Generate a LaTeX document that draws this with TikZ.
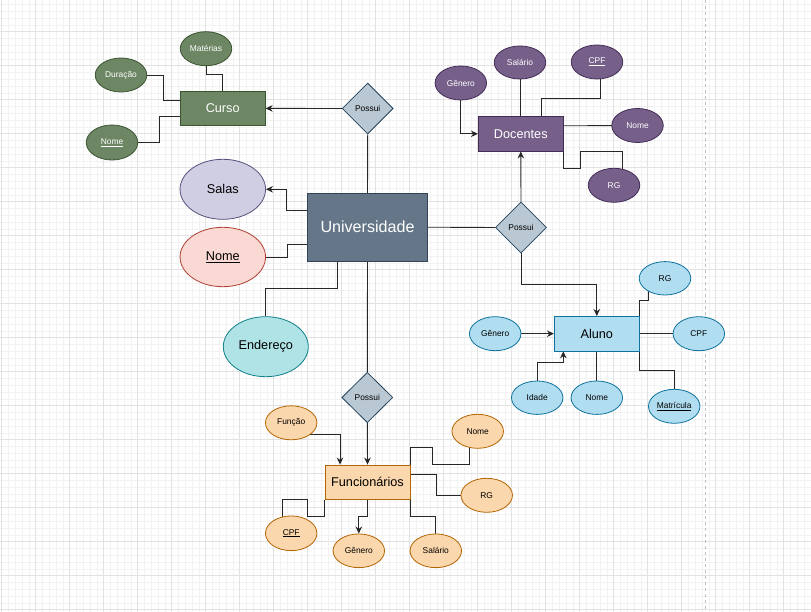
\documentclass[tikz,border=0pt]{standalone}
\usepackage{fontspec}
\setmainfont{Liberation Sans}
\usetikzlibrary{shapes.geometric,arrows.meta,backgrounds}
\definecolor{grnF}{HTML}{6D8764}\definecolor{grnD}{HTML}{3A5431}
\definecolor{purF}{HTML}{76608A}\definecolor{purD}{HTML}{432D57}
\definecolor{bluF}{HTML}{B1DDF0}\definecolor{bluD}{HTML}{10739E}
\definecolor{orgF}{HTML}{FAD7AC}\definecolor{orgD}{HTML}{B46504}
\definecolor{salF}{HTML}{D0CEE2}\definecolor{salD}{HTML}{56517E}
\definecolor{nomF}{HTML}{FAD9D5}\definecolor{nomD}{HTML}{AE4132}
\definecolor{endF}{HTML}{B0E3E6}\definecolor{endD}{HTML}{0E8088}
\definecolor{diaF}{HTML}{BAC8D3}\definecolor{diaD}{HTML}{23445D}
\definecolor{uniF}{HTML}{647687}\definecolor{uniD}{HTML}{314354}
\definecolor{gridmin}{HTML}{F2F2F2}\definecolor{gridmaj}{HTML}{E2E2E2}
\tikzset{
  ent/.style={rectangle,inner sep=0pt,minimum width=85pt,minimum height=34.5pt,line width=0.8pt,font=\fontsize{12.7}{15}\selectfont},
  att/.style={ellipse,inner sep=0pt,minimum width=51.5pt,minimum height=34pt,line width=0.8pt,font=\fontsize{8.4}{10}\selectfont},
  bigatt/.style={ellipse,inner sep=0pt,minimum width=85.5pt,minimum height=60pt,line width=0.8pt,font=\fontsize{12.7}{15}\selectfont},
  rel/.style={diamond,inner sep=0pt,minimum width=51pt,minimum height=51pt,fill=diaF,draw=diaD,line width=0.8pt,font=\fontsize{8.4}{10}\selectfont},
  green/.style={fill=grnF,draw=grnD,text=white},
  purple/.style={fill=purF,draw=purD,text=white},
  blue/.style={fill=bluF,draw=bluD,text=black},
  orange/.style={fill=orgF,draw=orgD,text=black},
  conn/.style={draw=black!85,line width=0.9pt},
  arr/.style={conn,-{Stealth[length=7pt,width=6.5pt]}},
}
\begin{document}
\begin{tikzpicture}[x=1pt,y=-1pt]
\useasboundingbox (0,0) rectangle (811,612);
\begin{pgfonlayer}{background}
\fill[white] (0,0) rectangle (811,612);
\foreach \i in {0,...,119} {\draw[gridmin,line width=0.6pt] ({1.7+6.8*\i},0) -- ({1.7+6.8*\i},612);}
\foreach \i in {1,...,90} {\draw[gridmin,line width=0.6pt] (0,{-2.3+6.8*\i}) -- (811,{-2.3+6.8*\i});}
\foreach \i in {0,...,23} {\draw[gridmaj,line width=0.8pt] ({1.7+34*\i},0) -- ({1.7+34*\i},612);}
\foreach \i in {1,...,18} {\draw[gridmaj,line width=0.8pt] (0,{-2.3+34*\i}) -- (811,{-2.3+34*\i});}
\draw[black!25,line width=0.8pt,dash pattern=on 3pt off 3pt] (705.7,0) -- (705.7,612);
\end{pgfonlayer}

% Curso
\node[ent,green] (curso) at (222.7,108.4) {Curso};
\node[att,green] (materias) at (206,48.7) {Matérias};
\node[att,green] (duracao) at (121,75) {Duração};
\node[att,green,minimum height=35pt] (nomecurso) at (112,142.5) {\underline{Nome}};
\node[rel] (possui1) at (367.7,108.5) {Possui};

% Universidade
\node[ent,fill=uniF,draw=uniD,text=white,minimum width=119.6pt,minimum height=67.7pt,font=\fontsize{16.1}{19}\selectfont] (univ) at (367.5,227.2) {Universidade};
\node[bigatt,fill=salF,draw=salD] (salas) at (222.8,189.3) {Salas};
\node[bigatt,fill=nomF,draw=nomD,minimum height=59.4pt] (nomeu) at (222.8,257) {\underline{Nome}};
\node[bigatt,fill=endF,draw=endD,minimum width=85pt] (endereco) at (265.8,346.7) {Endereço};

% Docentes
\node[ent,purple] (docentes) at (520.8,133.8) {Docentes};
\node[att,purple] (generod) at (460.8,83) {Gênero};
\node[att,purple,minimum height=33pt] (salariod) at (520,62.5) {Salário};
\node[att,purple] (cpfd) at (597,62) {\underline{CPF}};
\node[att,purple] (nomed) at (637.5,125.5) {Nome};
\node[att,purple] (rgd) at (614,185.3) {RG};
\node[rel] (possui2) at (521,227.5) {Possui};

% Aluno
\node[ent,blue] (aluno) at (596.8,333.7) {Aluno};
\node[att,blue,minimum height=33.4pt] (rga) at (665,278.3) {RG};
\node[att,blue] (cpfa) at (698.8,333.7) {CPF};
\node[att,blue] (generoa) at (495.2,333.7) {Gênero};
\node[att,blue,minimum height=33.4pt] (idade) at (537.2,397.7) {Idade};
\node[att,blue,minimum height=33.4pt] (nomea) at (596.8,397.7) {Nome};
\node[att,blue] (matricula) at (674.2,406.3) {\underline{Matrícula}};

% Funcionarios
\node[rel,minimum height=50.4pt] (possui3) at (367.3,397.5) {Possui};
\node[ent,orange] (func) at (367.5,482.2) {Funcionários};
\node[att,orange] (funcao) at (291.2,422.8) {Função};
\node[att,orange] (nomef) at (477.7,431.3) {Nome};
\node[att,orange] (rgf) at (486.7,495.3) {RG};
\node[att,orange,minimum height=33.7pt] (salariof) at (435.8,550.8) {Salário};
\node[att,orange,minimum height=33.7pt] (generof) at (358.8,550.8) {Gênero};
\node[att,orange,minimum height=34.7pt] (cpff) at (291.2,533.3) {\underline{CPF}};

\begin{pgfonlayer}{background}
% Curso
\draw[conn] (materias.south) -- ++(0,8.6) -| (curso.north);
\draw[conn] (duracao.east) -- ++(16.6,0) |- ([yshift=8pt]curso.west);
\draw[conn] (nomecurso.east) -- ++(21.6,0) |- ([yshift=-8pt]curso.west);
\draw[arr] (possui1.west) -- (curso.east);
\draw[conn] (possui1.south) -- (univ.north);
% Universidade
\draw[arr] ([yshift=17pt]univ.west) -- ++(-21,0) |- (salas.east);
\draw[conn] (nomeu.east) -- ++(21,0) |- ([yshift=-17pt]univ.west);
\draw[conn] (endereco.north) -- ++(0,-27.4) -| ([xshift=-29.8pt]univ.south);
\draw[conn] (univ.east) -- (possui2.west);
\draw[arr] (possui2.north) -- (docentes.south);
\draw[arr] (possui2.south) -- ++(0,31.3) -| (aluno.north);
\draw[conn] (univ.south) -- (possui3.north);
\draw[arr] (possui3.south) -- (func.north);
% Docentes
\draw[arr] (generod.south) |- (docentes.west);
\draw[conn] (salariod.south) -- (salariod.south |- docentes.north);
\draw[conn] ([xshift=3pt]cpfd.center) -- ++(0,36.3) -| ([xshift=21pt]docentes.north);
\draw[conn] ([yshift=8pt]docentes.east) -- (nomed.center);
\draw[conn] (docentes.south east) -- ++(0,16.7) -- ++(16.7,0) -- ++(0,-16.7) -| ([xshift=8.3pt]rgd.center);
% Aluno
\draw[conn] ([xshift=-16.7pt]rga.center) -- ++(0,21.7) -| (aluno.north east);
\draw[conn] (aluno.east) -- (cpfa.west);
\draw[arr] (generoa.east) -- (aluno.west);
\draw[arr] (idade.north) -- ++(0,-17.7) -| ([xshift=-33.5pt]aluno.south);
\draw[conn] (aluno.south) -- (nomea.north);
\draw[conn] (aluno.south east) -- ++(0,18.6) -| (matricula.north);
% Funcionarios
\draw[arr] ([xshift=17pt,yshift=-12pt]funcao.center) -| ([xshift=-27.5pt]func.north);
\draw[conn] (func.north east) -- ++(0,-16.7) -- ++(21.7,0) -- ++(0,16.7) -| ([xshift=-8.4pt]nomef.center);
\draw[conn] ([yshift=8pt]func.east) -- ++(25.7,0) |- (rgf.west);
\draw[conn] (func.south east) -- ++(0,16.7) -| (salariof.north);
\draw[arr] (func.south) -- ++(0,16.7) -| (generof.north);
\draw[conn] (func.south west) -- ++(0,16.7) -- ++(-16.7,0) -- ++(0,-16.7) -| ([xshift=-8.9pt]cpff.center);
\end{pgfonlayer}
\end{tikzpicture}
\end{document}
